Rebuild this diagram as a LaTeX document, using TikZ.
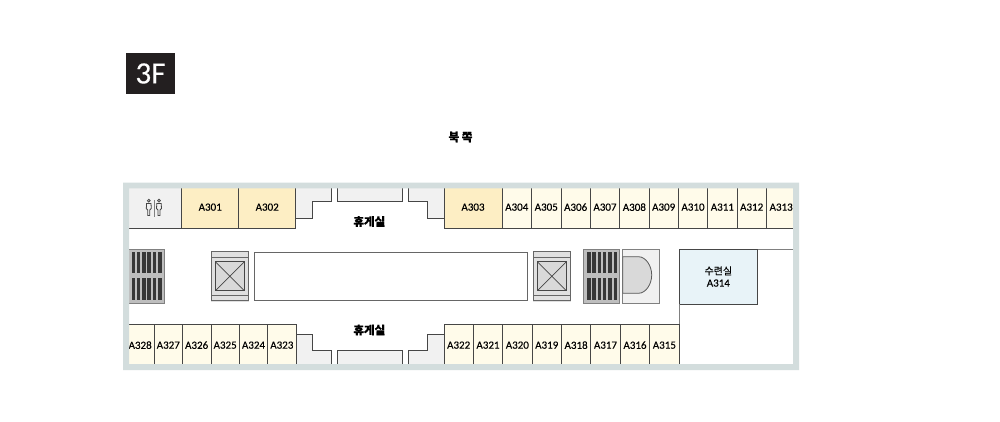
\documentclass[tikz,border=0pt]{standalone}
\usepackage{fontspec}
\setmainfont[FakeBold=0.3]{Carlito}
\newfontfamily\krfont[FakeBold=0.4]{Noto Sans CJK KR}
\definecolor{framegrey}{RGB}{211, 221, 221}
\definecolor{wallline}{RGB}{70, 70, 70}
\definecolor{softfill}{RGB}{241, 241, 241}
\definecolor{midfill}{RGB}{217, 217, 217}
\definecolor{ventfill}{RGB}{190, 190, 190}
\definecolor{barfill}{RGB}{55, 55, 55}
\definecolor{bigroom}{RGB}{253, 238, 196}
\definecolor{smallroom}{RGB}{255, 251, 234}
\definecolor{blueroom}{RGB}{232, 243, 248}
\definecolor{badgefill}{RGB}{35, 31, 32}
\usetikzlibrary{positioning}
\tikzset{
    wall/.style={draw=wallline, line width=1pt},
    room/.style={wall, inner sep=0pt, minimum height=42.3pt,
        font=\fontsize{11}{12}\selectfont},
    restlabel/.style={inner sep=0pt, font=\krfont\bfseries\fontsize{11.5}{12}\selectfont},
    ventbars/.pic={
        \fill[ventfill, draw=gray, line width=1pt] (0, 0) rectangle (36.5, 54.3);
        \foreach \xa in {0, 5.3, 10.6, 15.9, 21.2, 26.5} {
            \fill[barfill] (4+\xa, 3.3) rectangle (7.5+\xa, 24);
            \fill[barfill] (4+\xa, 28.7) rectangle (7.5+\xa, 50.7);
        }
    },
    liftcar/.pic={
        \draw[softfill!85!gray, fill=softfill!85!gray] (0, 0) rectangle (37.2, 49);
        \draw[gray!80!black, line width=1pt] (0, 0) rectangle (37.2, 49);
        \draw[gray!80!black, line width=1pt] (0, 6) -- (37.2, 6) (0, 43.3) -- (37.2, 43.3);
        \draw[wall, fill=midfill] (4, 10) rectangle (33, 39);
        \draw[wallline, line width=0.7pt] (4, 10) -- (33, 39) (4, 39) -- (33, 10);
    },
    manicon/.pic={
        \draw[wallline, line width=0.8pt] (0, -6.8) circle (1.4);
        \draw[wallline, line width=0.8pt] (-1, 8) -- (-1, 2.5) -- (-2.5, 1)
            -- (-2.2, -4) -- (2.2, -4) -- (2.5, 1) -- (1, 2.5) -- (1, 8) -- cycle;
    },
}
\begin{document}
\begin{tikzpicture}[x=1pt, y=-1pt]
    \path[fill=white, use as bounding box] (0, 0) rectangle (1000, 422);
    \node[fill=badgefill, text=white, minimum width=49pt, minimum height=41pt,
        inner sep=0pt, font=\fontsize{31}{32}\selectfont] (badge) at (150.5, 73.5) {3F};
    \node[restlabel] (north) at (460.5, 137) {북 쪽};
    \fill[softfill] (296, 186) rectangle (331, 201.7) (296, 201.7) rectangle (312.3, 218.3);
    \fill[softfill] (337.3, 186) rectangle (402.7, 201.5);
    \fill[softfill] (408.3, 186) rectangle (444, 201.7) (427.7, 201.7) rectangle (444, 218.3);
    \fill[softfill] (296, 334) rectangle (312.3, 366) (312.3, 350) rectangle (331, 366);
    \fill[softfill] (337.3, 350) rectangle (402.7, 366);
    \fill[softfill] (408.3, 350) rectangle (444, 366) (427.7, 334) rectangle (444, 350);
    \draw[wall] (331, 186) -- (331, 201.7) -- (312.3, 201.7) -- (312.3, 218.3) -- (296, 218.3);
    \draw[wall] (337.3, 186) -- (337.3, 201.5) -- (402.7, 201.5) -- (402.7, 186);
    \draw[wall] (408.3, 186) -- (408.3, 201.7) -- (427.7, 201.7) -- (427.7, 218.3) -- (444, 218.3);
    \draw[wall] (296, 334) -- (312.3, 334) -- (312.3, 350) -- (331, 350) -- (331, 366);
    \draw[wall] (337.3, 366) -- (337.3, 350) -- (402.7, 350) -- (402.7, 366);
    \draw[wall] (408.3, 366) -- (408.3, 350) -- (427.7, 350) -- (427.7, 334) -- (444, 334);
    \node[room, fill=softfill, minimum width=57.7pt] (toilet) at (152.85, 207.15) {};
    \foreach \nm/\xa/\xb in {A301/181.7/238.7, A302/238.7/295.7, A303/444/502} {
        \node[room, fill=bigroom, minimum width=\xb pt-\xa pt] (\nm)
            at ({(\xa+\xb)/2}, 207.15) {\nm};
    }
    \foreach \nm/\xa/\xb in {A304/502/531.5, A305/531.5/561, A306/561/590.3,
        A307/590.3/619.7, A308/619.7/649, A309/649/678.3, A310/678.3/707.7,
        A311/707.7/737, A312/737/766.3, A313/766.3/796} {
        \node[room, fill=smallroom, minimum width=\xb pt-\xa pt] (\nm)
            at ({(\xa+\xb)/2}, 207.15) {\nm};
    }
    \foreach \nm/\xa/\xb in {A328/126/154.3, A327/154.3/182.3, A326/182.3/211,
        A325/211/239.3, A324/239.3/267.7, A323/267.7/296, A322/444/473.3,
        A321/473.3/502.7, A320/502.7/532, A319/532/561.5, A318/561.5/590.7,
        A317/590.7/620.3, A316/620.3/649.7, A315/649.7/679} {
        \node[room, fill=smallroom, minimum width=\xb pt-\xa pt] (\nm)
            at ({(\xa+\xb)/2}, 345.15) {\nm};
    }
    \node[wall, fill=blueroom, minimum width=78.7pt, minimum height=55pt, inner sep=0pt,
        align=center, font=\krfont\fontsize{10}{12}\selectfont] (A314) at (718.35, 276.5)
        {수련실\\\normalfont\fontsize{11}{12}\selectfont A314};
    \node[restlabel] (restnorth) at (369.3, 221.5) {휴게실};
    \node[restlabel] (restsouth) at (369.3, 330) {휴게실};
    \draw[gray, line width=1pt] (679, 304) -- (679, 324) (757.7, 249) -- (796, 249);
    \draw[wall] (679, 324) -- (679, 366);
    \pic at (127.5, 249) {ventbars};
    \pic at (583, 249) {ventbars};
    \pic at (211.3, 251.7) {liftcar};
    \pic at (533.3, 251.7) {liftcar};
    \draw[gray!80!black, line width=1pt] (254.3, 252.3) rectangle (527.3, 300.3);
    \draw[gray, fill=softfill, line width=0.8pt] (622.7, 249) rectangle (659.7, 303.3);
    \draw[gray!70!black, fill=midfill, line width=0.8pt] (622.7, 256.7) -- (638.3, 256.7)
        .. controls (646, 256.7) and (651.7, 266) .. (651.7, 275)
        .. controls (651.7, 284) and (646, 293.3) .. (638.3, 293.3) -- (622.7, 293.3) -- cycle;
    \pic at (148.8, 207.5) {manicon};
    \pic at (159, 207.5) {manicon};
    \draw[gray, line width=0.8pt] (154, 200) -- (154, 216.5);
    \fill[framegrey, even odd rule] (123, 182.5) rectangle (799, 370)
        (129, 188.3) rectangle (793, 364);
\end{tikzpicture}
\end{document}
